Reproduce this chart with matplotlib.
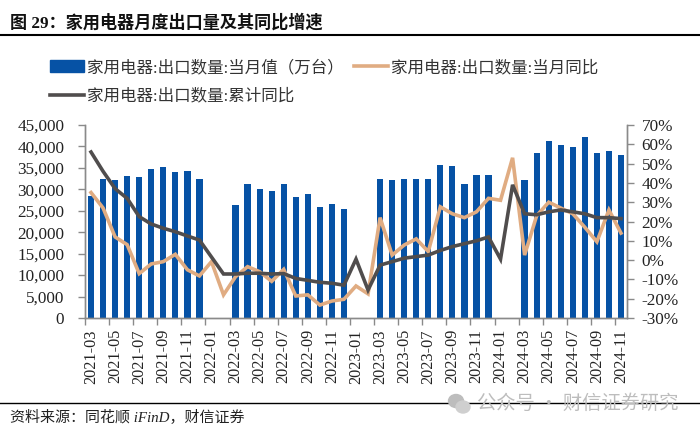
import numpy as np
import matplotlib
matplotlib.use('Agg')
import matplotlib.pyplot as plt
from matplotlib.lines import Line2D
from matplotlib.patches import Ellipse

plt.rcParams['font.family'] = ['Liberation Serif', 'Noto Sans CJK SC']

nan = float('nan')

months = []
for y in range(2021, 2025):
    for m in range(1, 13):
        if (y, m) >= (2021, 3) and (y, m) <= (2024, 11):
            months.append(f'{y}-{m:02d}')

# 当月值（万台）
export_qty = [28500, 32400, 32200, 33000, 32800, 34800, 35300, 34000, 34200, 32400,
              nan, nan,
              26400, 31200, 30100, 29500, 31200, 28200, 28800, 25800, 26600, 25500,
              nan, nan,
              32400, 32100, 32400, 32400, 32400, 35700, 35400, 31200, 33300, 33300,
              nan, nan,
              32100, 38400, 41200, 40400, 39900, 42200, 38400, 38900, 38000]
# 当月同比 (%)
monthly_yoy = [35, 27, 12, 8, -7, -2, -0.8, 3, -5, -8.2,
               -0.8, -18,
               -8.6, -3.4, -6, -11, -4.8, -18.6, -18, -23.3, -21.2, -20.3,
               -13.4, -17.5,
               22, 2.6, 7.8, 11, 4.4, 27.6, 24, 22, 25, 32,
               31, 53,
               2.6, 23, 30, 27, 24, 17, 9.5, 26, 14]
# 累计同比 (%)
cum_yoy = [56, 46, 37, 32, 22.5, 18.7, 16.5, 14.7, 12.5, 10.4,
           1.6, -7.2,
           -7.2, -6.8, -6.8, -7.2, -7, -9.5, -10.5, -11.5, -12, -13,
           0.5, -15.5,
           -2.6, -0.8, 1, 1.8, 2.6, 5, 7, 8.5, 10, 12,
           0.5, 39,
           24, 23.5, 25, 26, 25, 24, 22, 22, 21.5]

left_ticks = [0, 5000, 10000, 15000, 20000, 25000, 30000, 35000, 40000, 45000]
right_ticks = [-30, -20, -10, 0, 10, 20, 30, 40, 50, 60, 70]

blue = '#0652A5'
tan = '#E0AC82'
dark = '#504D4D'
grey = '#8A8A8A'
txt = '#222222'

fig = plt.figure(figsize=(7, 4.32), dpi=100)
ax = fig.add_axes([85 / 700, (432 - 318) / 432, 542 / 700, 193 / 432])
ax2 = ax.twinx()

x = np.arange(len(months)) + 0.5
ax.bar(x, export_qty, width=0.52, color=blue)
ax2.plot(x, monthly_yoy, color=tan, lw=2.6, solid_joinstyle='miter')
ax2.plot(x, cum_yoy, color=dark, lw=2.6, solid_joinstyle='miter')

ax.set_xlim(0, 45)
ax.set_ylim(0, 45000)
ax2.set_ylim(-30, 70)

ax.set_yticks(left_ticks)
ax.set_yticklabels([f'{v:,}' for v in left_ticks], fontsize=12.3, color=txt)
ax2.set_yticks(right_ticks)
ax2.set_yticklabels([f'{v}%' for v in right_ticks], fontsize=12.3, color=txt)

ax.set_xticks(np.arange(0, 45, 2))
ax.set_xticklabels([])
ax.set_xticks(x[::2], months[::2], minor=True, rotation=90, fontsize=11.7, color=txt)

ax.tick_params(axis='x', which='major', length=5, width=1, color=grey)
ax.tick_params(axis='x', which='minor', length=0, pad=8)
ax.tick_params(axis='y', length=5, width=1, color=grey, pad=10)
ax2.tick_params(axis='y', length=5, width=1, color=grey, pad=5.5)

for a in (ax, ax2):
    a.spines['top'].set_visible(False)
    for s in ('left', 'right', 'bottom'):
        a.spines[s].set_color(grey)
        a.spines[s].set_linewidth(1)

# 图例
handles = [plt.Rectangle((0, 0), 1, 1, color=blue),
           Line2D([], [], color=dark, lw=2.6),
           Line2D([], [], color=tan, lw=2.6)]
labels = ['家用电器:出口数量:当月值（万台）', '家用电器:出口数量:累计同比', '家用电器:出口数量:当月同比']
fig.legend(handles, labels, ncol=2, frameon=False, fontsize=11.9, labelcolor='#333333',
           loc='upper left', bbox_to_anchor=(50 / 700, 1 - 60 / 432),
           handlelength=2.05, handletextpad=0.2, columnspacing=0.6, labelspacing=0.75,
           borderaxespad=0, borderpad=0)

# 标题和来源
fig.text(10 / 700, 1 - 23 / 432, '图 29：家用电器月度出口量及其同比增速',
         fontsize=12.3, fontweight='bold', color='#111111', va='center')
fig.add_artist(Line2D([0, 1], [1 - 34.5 / 432] * 2, color='black', lw=1.5))
fig.add_artist(Line2D([0, 1], [1 - 403 / 432] * 2, color='black', lw=1))
fig.text(10 / 700, 1 - 418 / 432, '资料来源：同花顺 iFinD，财信证券',
         fontsize=10.8, style='italic', color='#222222', va='center')

# 水印
wm = '#BDBDBD'
fig.add_artist(Ellipse((456 / 700, 1 - 401 / 432), 15 / 700, 13 / 432, color=wm, zorder=5))
fig.add_artist(Ellipse((463 / 700, 1 - 407 / 432), 14 / 700, 12 / 432, color='#CFCFCF', zorder=6))
fig.text(477 / 700, 1 - 403.5 / 432, '公众号 · 财信证券研究', fontsize=13.9, color=wm,
         va='center', zorder=6, family=['Noto Sans CJK SC'])

fig.savefig('out.png', dpi=100)
